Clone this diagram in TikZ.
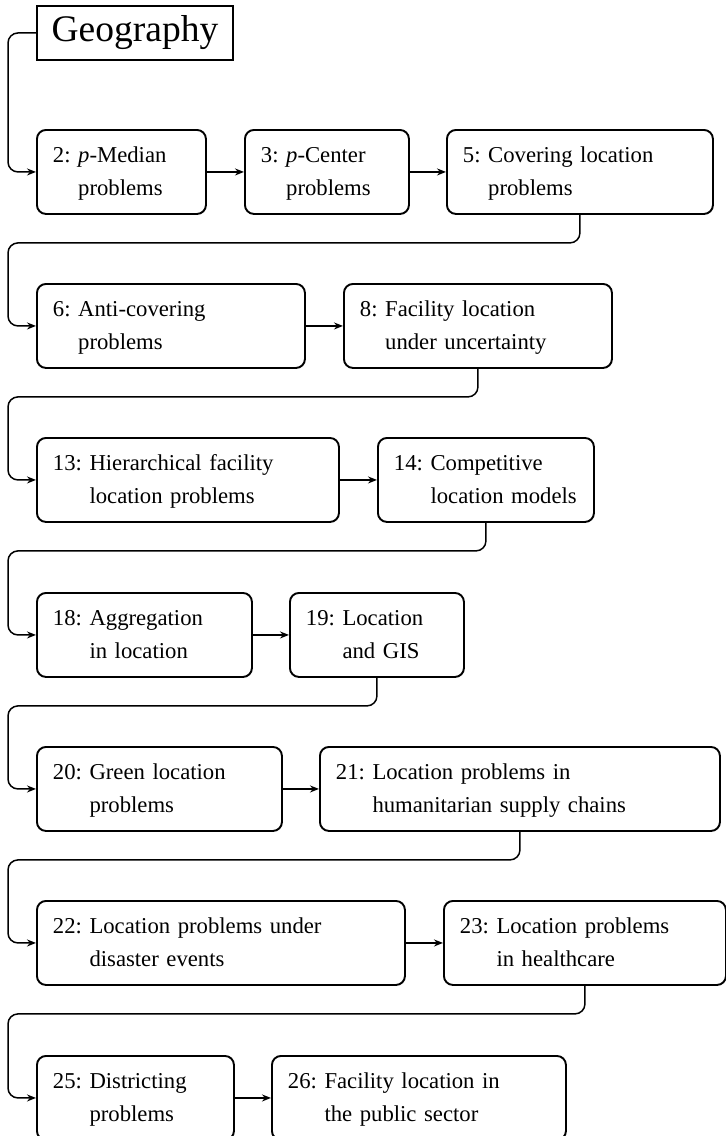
\documentclass[tikz,border=0pt]{standalone}
\usepackage{fontspec}
\setmainfont{Liberation Serif}
\usetikzlibrary{arrows.meta}
\newcommand\lbl[3]{\noindent\begin{tabular}{@{}l@{\ }l@{}}#1&#2\\&#3\end{tabular}}
\begin{document}
\begin{tikzpicture}[x=1pt,y=-1pt,
  bx/.style={draw, line width=1.9pt, rounded corners=9pt, anchor=north west,
    minimum height=84pt, inner xsep=16pt, inner ysep=0pt, align=left,
    font=\fontsize{22.7}{33}\selectfont},
  conn/.style={line width=1.5pt, rounded corners=10pt,
    -{Stealth[length=9pt,width=7pt,inset=3pt]}},
  geo/.style={draw, line width=1.9pt, anchor=north west, minimum width=196pt,
    minimum height=54pt, inner sep=0pt, font=\fontsize{37.5}{40}\selectfont}]
\useasboundingbox (0,0) rectangle (726,1136);

\node[geo] (g) at (36,5) {Geography};

\node[bx, text width=137pt] (b2) at (36,129) {\lbl{2:}{\textit{p}-Median}{problems}};
\node[bx, text width=132pt] (b3) at (244,129) {\lbl{3:}{\textit{p}-Center}{problems}};
\node[bx, text width=234pt] (b5) at (446,129) {\lbl{5:}{Covering location}{problems}};

\node[bx, text width=236pt] (b6) at (36,283) {\lbl{6:}{Anti-covering}{problems}};
\node[bx, text width=236pt] (b8) at (343,283) {\lbl{8:}{Facility location}{under uncertainty}};

\node[bx, text width=270pt] (b13) at (36,437) {\lbl{13:}{Hierarchical facility}{location problems}};
\node[bx, text width=184pt] (b14) at (377,437) {\lbl{14:}{Competitive}{location models}};

\node[bx, text width=183pt] (b18) at (36,592) {\lbl{18:}{Aggregation}{in location}};
\node[bx, text width=142pt] (b19) at (289,592) {\lbl{19:}{Location}{and GIS}};

\node[bx, text width=213pt] (b20) at (36,746) {\lbl{20:}{Green location}{problems}};
\node[bx, text width=368pt] (b21) at (319,746) {\lbl{21:}{Location problems in}{humanitarian supply chains}};

\node[bx, text width=336pt] (b22) at (36,900) {\lbl{22:}{Location problems under}{disaster events}};
\node[bx, text width=250pt] (b23) at (443,900) {\lbl{23:}{Location problems}{in healthcare}};

\node[bx, text width=165pt] (b25) at (36,1055) {\lbl{25:}{Districting}{problems}};
\node[bx, text width=262pt] (b26) at (271,1055) {\lbl{26:}{Facility location in}{the public sector}};

\draw[conn] (g.west) -- ++(-28,0) |- (b2.west);
\draw[conn] (b2.east) -- (b3.west);
\draw[conn] (b3.east) -- (b5.west);
\draw[conn] (b5.south) -- ++(0,28) -| ([xshift=-28pt]b6.west) -- (b6.west);
\draw[conn] (b6.east) -- (b8.west);
\draw[conn] (b8.south) -- ++(0,28) -| ([xshift=-28pt]b13.west) -- (b13.west);
\draw[conn] (b13.east) -- (b14.west);
\draw[conn] (b14.south) -- ++(0,28) -| ([xshift=-28pt]b18.west) -- (b18.west);
\draw[conn] (b18.east) -- (b19.west);
\draw[conn] (b19.south) -- ++(0,28) -| ([xshift=-28pt]b20.west) -- (b20.west);
\draw[conn] (b20.east) -- (b21.west);
\draw[conn] (b21.south) -- ++(0,28) -| ([xshift=-28pt]b22.west) -- (b22.west);
\draw[conn] (b22.east) -- (b23.west);
\draw[conn] (b23.south) -- ++(0,28) -| ([xshift=-28pt]b25.west) -- (b25.west);
\draw[conn] (b25.east) -- (b26.west);
\end{tikzpicture}
\end{document}
